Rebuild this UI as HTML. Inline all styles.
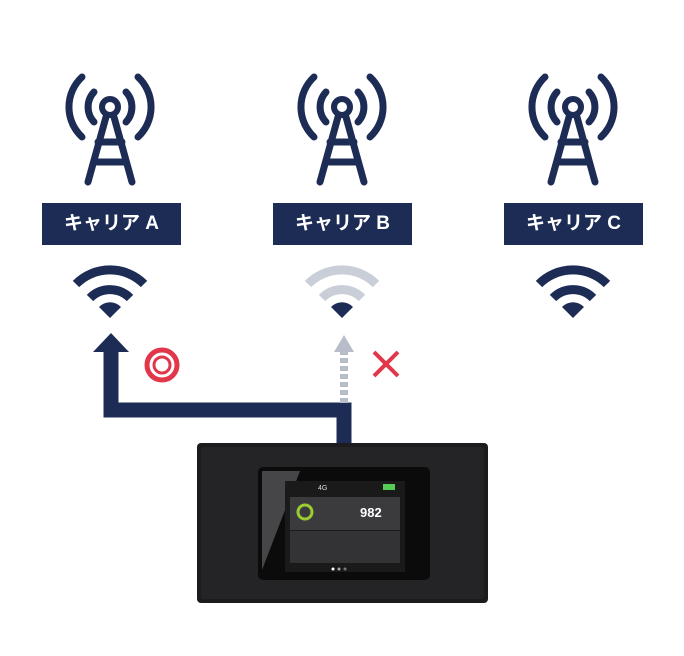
<!DOCTYPE html>
<html><head><meta charset="utf-8"><style>
body{margin:0;background:#fff;width:684px;height:656px;overflow:hidden}
.lab{position:absolute;top:203px;width:139px;height:42px;background:#1d2c55;color:#fff;font:bold 19px "Liberation Sans","Noto Sans CJK JP",sans-serif;text-align:center;line-height:42px}
</style></head><body>
<svg width="684" height="656" style="position:absolute;left:0;top:0">
<defs>
<g id="tw" fill="none" stroke="#1d2c55" stroke-width="7" stroke-linecap="round">
<path d="M-28 77 A41 41 0 0 0 -28 137"/>
<path d="M28 77 A41 41 0 0 1 28 137"/>
<path d="M-16 92 A22 22 0 0 0 -16 122"/>
<path d="M16 92 A22 22 0 0 1 16 122"/>
<circle cx="0" cy="107" r="8" stroke-width="6"/>
<path d="M-4 117 L-22 182 M4 117 L22 182 M-12 142 H12 M-16 162 H16" stroke-width="7"/>
</g>
<g id="wf">
<path d="M-34 284 A48 48 0 0 1 34 284" fill="none" stroke-width="9"/>
<path d="M-20 298 A28 28 0 0 1 20 298" fill="none" stroke-width="9"/>
</g>
<path id="dot" d="M0 318 L-11 307 A15 15 0 0 1 11 307 Z"/>
</defs>
<use href="#tw" x="110"/><use href="#tw" x="342"/><use href="#tw" x="573"/>
<use href="#wf" x="110" stroke="#1d2c55"/><use href="#dot" x="110" fill="#1d2c55"/>
<use href="#wf" x="342" stroke="#c9ced8"/><use href="#dot" x="342" fill="#1d2c55"/>
<use href="#wf" x="573" stroke="#1d2c55"/><use href="#dot" x="573" fill="#1d2c55"/>
<path d="M111 352 V410 H344 V447" fill="none" stroke="#1d2c55" stroke-width="15"/>
<path d="M93 352 L111 333 L129 352 Z" fill="#1d2c55"/>
<path d="M344 403 V350" stroke="#b8bec9" stroke-width="8" stroke-dasharray="5 3"/>
<path d="M334 352 L344 335 L354 352 Z" fill="#b8bec9"/>
<circle cx="162" cy="365" r="15" fill="none" stroke="#e2374a" stroke-width="5"/>
<circle cx="162" cy="365" r="8" fill="none" stroke="#e2374a" stroke-width="3"/>
<path d="M374 352 L398 376 M398 352 L374 376" stroke="#e2374a" stroke-width="4"/>
<rect x="197" y="443" width="291" height="160" rx="4" fill="#1c1c1e"/>
<rect x="201" y="447" width="283" height="152" rx="3" fill="#242426"/>
<rect x="258" y="467" width="172" height="113" rx="5" fill="#0b0b0c"/>
<path d="M262 471 L300 471 L262 570 Z" fill="#6e6e72" opacity="0.6"/>
<rect x="285" y="481" width="120" height="91" fill="#1a1a1a"/>
<rect x="290" y="497" width="110" height="33" fill="#3b3b3d"/>
<rect x="290" y="531" width="110" height="32" fill="#333335"/>
<circle cx="305" cy="512" r="7" fill="none" stroke="#9acd32" stroke-width="3"/>
<text x="360" y="517" fill="#fff" font-family="Liberation Sans" font-weight="bold" font-size="13">982</text>
<rect x="383" y="484" width="12" height="6" fill="#5c5"/>
<text x="318" y="490" fill="#ddd" font-family="Liberation Sans" font-size="7">4G</text>
<circle cx="333" cy="569" r="1.5" fill="#fff"/><circle cx="339" cy="569" r="1.5" fill="#aaa"/><circle cx="345" cy="569" r="1.5" fill="#777"/>
</svg>
<div class="lab" style="left:42px">キャリア A</div>
<div class="lab" style="left:273px">キャリア B</div>
<div class="lab" style="left:504px">キャリア C</div>
</body></html>
